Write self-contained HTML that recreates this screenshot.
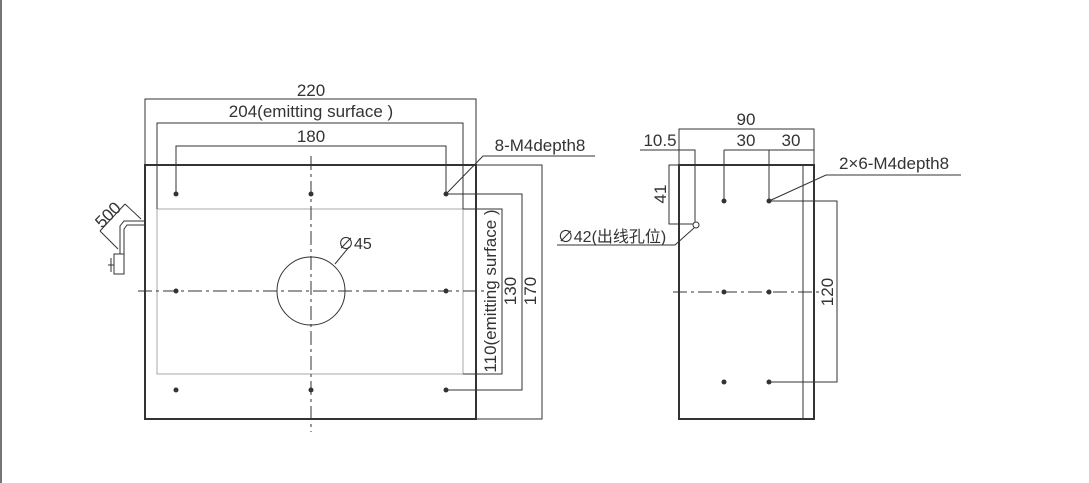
<!DOCTYPE html>
<html><head><meta charset="utf-8"><style>
html,body{margin:0;padding:0;background:#fff;}
svg{display:block;}
text{font-family:"Liberation Sans","Noto Sans CJK SC",sans-serif;fill:#333;}
</style></head><body>
<svg width="1089" height="483" viewBox="0 0 1089 483" xmlns="http://www.w3.org/2000/svg">
<rect width="1089" height="483" fill="#fff"/>
<line x1="1" y1="0" x2="1" y2="483" stroke="#777" stroke-width="2"/>
<g stroke="#333" fill="none" stroke-width="1">
<!-- LEFT VIEW -->
<rect x="145" y="165" width="331" height="254" stroke-width="2"/>
<rect x="157" y="209" width="306" height="165" stroke="#aaa"/>
<circle cx="311" cy="291" r="34"/>
<line x1="311" y1="156" x2="311" y2="432" stroke-dasharray="14,4,3,4"/>
<line x1="138" y1="291" x2="485" y2="291" stroke-dasharray="14,4,3,4"/>
<polyline points="145,165 145,99 476,99 476,165"/>
<polyline points="157,209 157,123 463,123 463,209"/>
<polyline points="176,194 176,146 446,146 446,194"/>
<polyline points="463,209 502,209 502,374 463,374"/>
<polyline points="446,194 522,194 522,390 446,390"/>
<polyline points="476,165 542,165 542,419 476,419"/>
<polyline points="446,194 483,156 595,156"/>
<line x1="335" y1="264" x2="349" y2="247"/>
<polyline points="145,221 124,221 120,226 120,254"/>
<polyline points="145,225 127,225 124,229 124,254"/>
<rect x="114" y="254" width="10" height="20"/>
<line x1="111" y1="258" x2="111" y2="272"/>
<line x1="108" y1="265" x2="114" y2="265"/>
<line x1="100" y1="231" x2="125" y2="204"/>
<line x1="125" y1="204" x2="141" y2="219"/>
<line x1="100" y1="231" x2="118" y2="249"/>
<!-- RIGHT VIEW -->
<rect x="679" y="165" width="135" height="254" stroke-width="2"/>
<line x1="803" y1="165" x2="803" y2="419"/>
<line x1="673" y1="292" x2="820" y2="292" stroke-dasharray="14,4,3,4"/>
<polyline points="679,165 679,129 814,129 814,165"/>
<line x1="724" y1="150" x2="814" y2="150"/>
<line x1="724" y1="150" x2="724" y2="201"/>
<line x1="769" y1="150" x2="769" y2="201"/>
<polyline points="640,150 695,150 695,222"/>
<polyline points="679,165 669,165 669,224 693,224"/>
<circle cx="696" cy="225" r="3" fill="#fff"/>
<polyline points="694,228 675,245 557,245"/>
<polyline points="769,201 837,201 837,382 769,382"/>
<polyline points="769,201 826,175 961,175"/>
</g>
<g fill="#333">
<circle cx="176" cy="194" r="2.5"/><circle cx="311" cy="194" r="2.5"/><circle cx="446" cy="194" r="2.5"/>
<circle cx="176" cy="291" r="2.5"/><circle cx="446" cy="291" r="2.5"/>
<circle cx="176" cy="390" r="2.5"/><circle cx="311" cy="390" r="2.5"/><circle cx="446" cy="390" r="2.5"/>
<circle cx="724" cy="201" r="2.5"/><circle cx="769" cy="201" r="2.5"/>
<circle cx="724" cy="292" r="2.5"/><circle cx="769" cy="292" r="2.5"/>
<circle cx="724" cy="382" r="2.5"/><circle cx="769" cy="382" r="2.5"/>
</g>
<g font-size="17" text-anchor="middle">
<text x="311" y="96">220</text>
<text x="311" y="117">204(emitting surface )</text>
<text x="311" y="142">180</text>
<text x="540" y="151">8-M4depth8</text>
<text x="338" y="249" font-size="16" text-anchor="start">∅45</text>
<text transform="translate(496,291) rotate(-90)">110(emitting surface )</text>
<text transform="translate(516,291) rotate(-90)">130</text>
<text transform="translate(536,291) rotate(-90)">170</text>
<text transform="translate(112,219) rotate(-45)">500</text>
<text x="746" y="125">90</text>
<text x="746" y="146">30</text>
<text x="791" y="146">30</text>
<text x="660" y="146">10.5</text>
<text transform="translate(666,194) rotate(-90)">41</text>
<text x="894" y="169">2×6-M4depth8</text>
<text x="612" y="242" font-size="16">∅42(出线孔位)</text>
<text transform="translate(833,292) rotate(-90)">120</text>
</g>
</svg>
</body></html>
